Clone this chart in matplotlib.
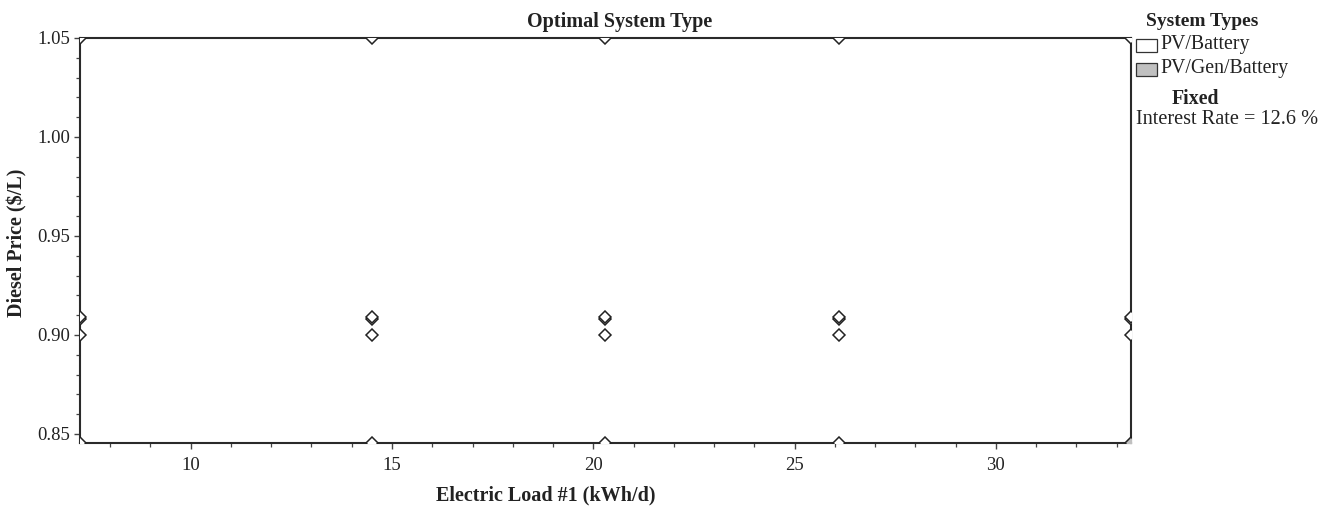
import matplotlib
matplotlib.use("Agg")
import matplotlib.pyplot as plt
from matplotlib.patches import Rectangle
from matplotlib.ticker import MultipleLocator, FormatStrFormatter

plt.rcParams["font.family"] = ["Liberation Serif", "DejaVu Serif"]

# Grid of simulated sensitivity cases
loads = [7.25, 14.5, 20.3, 26.1, 33.35]          # Electric Load #1 (kWh/d)
prices = [0.8456, 0.90, 0.908, 0.909, 1.05]       # Diesel Price ($/L)
# optimal system per case: PV/Gen/Battery only here, PV/Battery elsewhere
gen_cases = [(33.35, 0.8456)]

x_min, x_max = 7.25, 33.35
y_min, y_max = 0.8456, 1.05

W, H = 1333, 507
fig = plt.figure(figsize=(W / 100, H / 100), dpi=100)
ax = fig.add_axes([80 / W, 1 - 442.7 / H, 1050.7 / W, 404.7 / H])

for xv in loads:
    for yv in prices:
        face = "#c0c0c0" if (xv, yv) in gen_cases else "white"
        ax.plot(xv, yv, marker="D", ms=6.3, mfc=face, mec="#222222",
                mew=1.1, ls="none", zorder=3)

ax.set_xlim(x_min, x_max)
ax.set_ylim(y_min, y_max)
ax.xaxis.set_major_locator(MultipleLocator(5))
ax.xaxis.set_minor_locator(MultipleLocator(1))
ax.yaxis.set_major_locator(MultipleLocator(0.05))
ax.yaxis.set_minor_locator(MultipleLocator(0.01))
ax.yaxis.set_major_formatter(FormatStrFormatter("%.2f"))

for s in ax.spines.values():
    s.set_linewidth(1.5)
    s.set_color("#2a2a2a")
ax.tick_params(which="major", length=4, width=1.0, color="#444444",
               labelsize=13.5, labelcolor="#222222", pad=3)
ax.tick_params(axis="x", which="major", pad=6)
ax.tick_params(which="minor", length=3, width=0.9, color="#444444")

fig.text(620 / W, 1 - 22 / H, "Optimal System Type", fontsize=14.5,
         fontweight="bold", color="#222222", ha="center", va="center")
ax.set_xlabel("Electric Load #1 (kWh/d)", fontsize=14.5, fontweight="bold",
              color="#222222")
ax.xaxis.set_label_coords((546 - 80) / 1050.7, -(495 - 442.7) / 404.7)
ax.xaxis.label.set_va("center")
ax.set_ylabel("Diesel Price ($/L)", fontsize=14.5, fontweight="bold",
              color="#222222")
ax.yaxis.set_label_coords(-(80 - 17) / 1050.7, (442.7 - 243) / 404.7)
ax.yaxis.label.set_va("center")

# legend on the right
fig.text(1202 / W, 1 - 22 / H, "System Types", fontsize=14, fontweight="bold",
         ha="center", va="center", color="#222222")
fig.patches.append(Rectangle((1136 / W, 1 - 52 / H), 21 / W, 13 / H,
                             transform=fig.transFigure, fc="white",
                             ec="#333333", lw=0.9))
fig.patches.append(Rectangle((1136 / W, 1 - 76 / H), 21 / W, 13 / H,
                             transform=fig.transFigure, fc="#c0c0c0",
                             ec="#333333", lw=0.9))
fig.text(1160 / W, 1 - 45 / H, "PV/Battery", fontsize=14.3,
         ha="left", va="center", color="#222222")
fig.text(1160 / W, 1 - 69 / H, "PV/Gen/Battery", fontsize=14.3,
         ha="left", va="center", color="#222222")
fig.text(1195 / W, 1 - 99 / H, "Fixed", fontsize=14.3, fontweight="bold",
         ha="center", va="center", color="#222222")
fig.text(1136 / W, 1 - 119 / H, "Interest Rate = 12.6 %", fontsize=14.6,
         ha="left", va="center", color="#222222")

fig.savefig("out.png", dpi=100)
